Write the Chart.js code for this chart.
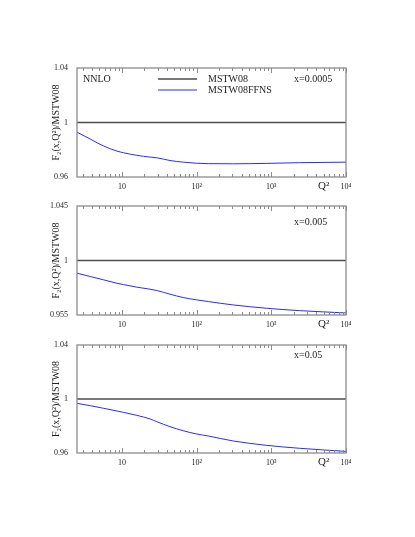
<!DOCTYPE html>
<html>
<head>
<meta charset="utf-8">
<script src="https://cdn.jsdelivr.net/npm/chart.js@4.4.1/dist/chart.umd.min.js"></script>
<style>
  html, body { margin: 0; padding: 0; background: #fff; }
  #wrap { position: relative; width: 415px; height: 537px; }
  #wrap canvas { position: absolute; left: 0; top: 0; }
</style>
</head>
<body>
<div id="wrap">
  <canvas id="c1" width="415" height="537"></canvas>
  <canvas id="c2" width="415" height="537"></canvas>
  <canvas id="c3" width="415" height="537"></canvas>
</div>
<script>
// Q^2 grid and F2 ratios
const q2 = [2.5, 3.8, 5.7, 8.6, 10.5, 15.8, 23.8, 29.3, 44, 66, 100, 143, 310, 855, 2380, 10000];
const mstw08 = [1, 1, 1, 1, 1, 1, 1, 1, 1, 1, 1, 1, 1, 1, 1, 1];
const ffnsX0005 = [0.9929, 0.9877, 0.9827, 0.9790, 0.9778, 0.9759, 0.9746, 0.9741, 0.9721, 0.9709, 0.9701, 0.9698, 0.9697, 0.9700, 0.9705, 0.9709];
const ffnsX005 = [0.9895, 0.9867, 0.9840, 0.9812, 0.9801, 0.9780, 0.9763, 0.9752, 0.9722, 0.9694, 0.9675, 0.9661, 0.9633, 0.9606, 0.9586, 0.9567];
const ffnsX05 = [0.9968, 0.9950, 0.9931, 0.9911, 0.9901, 0.9879, 0.9852, 0.9832, 0.9795, 0.9765, 0.9741, 0.9726, 0.9689, 0.9657, 0.9635, 0.9612];

const yTicksTop = [0.96, 1, 1.04];
const yTicksMid = [0.955, 1, 1.045];
const yTicksBot = [0.96, 1, 1.04];
const xMajor = [10, 100, 1000, 10000];
const xTickLabels = ['10', '10²', '10³', '10⁴'];
const seriesNames = ['MSTW08', 'MSTW08FFNS'];

const SERIF = "'Liberation Serif', 'DejaVu Serif', serif";
const FRAME = '#8c8c8c';
const TEXT = '#222';

function toPoints(ys) {
    return q2.map((q, i) => ({ x: q, y: ys[i] }));
}

// frame, inward ticks on top/bottom, and the text labels
const panelDecor = {
    id: 'panelDecor',
    afterDatasetsDraw(chart, args, opts) {
        const { ctx, chartArea: a, scales: { x } } = chart;
        ctx.save();
        ctx.strokeStyle = FRAME;
        ctx.lineWidth = 1.3;
        ctx.strokeRect(a.left, a.top, a.right - a.left, a.bottom - a.top);

        ctx.lineWidth = 1;
        ctx.beginPath();
        for (let base = 1; base <= 10000; base *= 10) {
            for (let k = 1; k <= 9; k++) {
                const v = k * base;
                if (v < x.min || v > x.max) continue;
                const px = Math.round(x.getPixelForValue(v)) + 0.5;
                const len = k === 1 ? 5 : 3;
                ctx.moveTo(px, a.bottom);
                ctx.lineTo(px, a.bottom - len);
                ctx.moveTo(px, a.top);
                ctx.lineTo(px, a.top + len);
            }
        }
        ctx.stroke();

        ctx.fillStyle = TEXT;
        ctx.textBaseline = 'middle';
        ctx.textAlign = 'left';
        ctx.font = '10px ' + SERIF;
        ctx.fillText(opts.label, 294, a.top + opts.labelDy);

        ctx.font = '11px ' + SERIF;
        ctx.fillText('Q²', 318, a.bottom + 9);

        if (opts.legend) {
            ctx.font = '10px ' + SERIF;
            ctx.fillText('NNLO', 83, a.top + 11);
            chart.data.datasets.forEach((ds, i) => {
                const ly = a.top + 11 + i * 11;
                ctx.strokeStyle = ds.borderColor;
                ctx.lineWidth = ds.borderWidth;
                ctx.beginPath();
                ctx.moveTo(158, ly);
                ctx.lineTo(197, ly);
                ctx.stroke();
                ctx.fillText(ds.label, 208, ly);
            });
        }
        ctx.restore();
    }
};

function makePanel(id, ffns, yTicks, top, bottom, label, labelDy, legend) {
    const ctx = document.getElementById(id).getContext('2d');
    return new Chart(ctx, {
        type: 'line',
        data: {
            datasets: [{
                label: seriesNames[0],
                data: toPoints(mstw08),
                borderColor: '#4d4d4d',
                borderWidth: 1.3,
                pointRadius: 0
            }, {
                label: seriesNames[1],
                data: toPoints(ffns),
                borderColor: '#2a2aff',
                borderWidth: 1,
                pointRadius: 0,
                cubicInterpolationMode: 'monotone'
            }]
        },
        options: {
            responsive: false,
            animation: false,
            events: [],
            layout: { padding: { left: 0, right: 69, top: top, bottom: 537 - bottom - 20 } },
            scales: {
                x: {
                    type: 'logarithmic',
                    min: 2.5,
                    max: 10000,
                    afterBuildTicks: s => { s.ticks = xMajor.map(v => ({ value: v })); },
                    afterFit: s => { s.height = 20; },
                    grid: { display: false, drawTicks: false },
                    border: { display: false },
                    ticks: {
                        autoSkip: false,
                        maxRotation: 0,
                        padding: 5,
                        color: TEXT,
                        font: { family: SERIF, size: 8 },
                        callback: (v, i) => xTickLabels[i]
                    }
                },
                y: {
                    type: 'linear',
                    min: yTicks[0],
                    max: yTicks[yTicks.length - 1],
                    afterBuildTicks: s => { s.ticks = yTicks.map(v => ({ value: v })); },
                    afterFit: s => { s.width = 77; },
                    grid: { display: false, drawTicks: false },
                    border: { display: false },
                    ticks: {
                        padding: 9,
                        color: TEXT,
                        font: { family: SERIF, size: 8 },
                        callback: v => String(v)
                    },
                    title: {
                        display: true,
                        text: 'F₂(x,Q²)/MSTW08',
                        color: TEXT,
                        font: { family: SERIF, size: 10 },
                        padding: { top: 50, bottom: 0 }
                    }
                }
            },
            plugins: {
                legend: { display: false },
                tooltip: { enabled: false },
                panelDecor: { label: label, labelDy: labelDy, legend: legend }
            }
        },
        plugins: [panelDecor]
    });
}

makePanel('c1', ffnsX0005, yTicksTop, 68, 177, 'x=0.0005', 11, true);
makePanel('c2', ffnsX005, yTicksMid, 206, 315, 'x=0.005', 16, false);
makePanel('c3', ffnsX05, yTicksBot, 345, 453, 'x=0.05', 10, false);
</script>
</body>
</html>
